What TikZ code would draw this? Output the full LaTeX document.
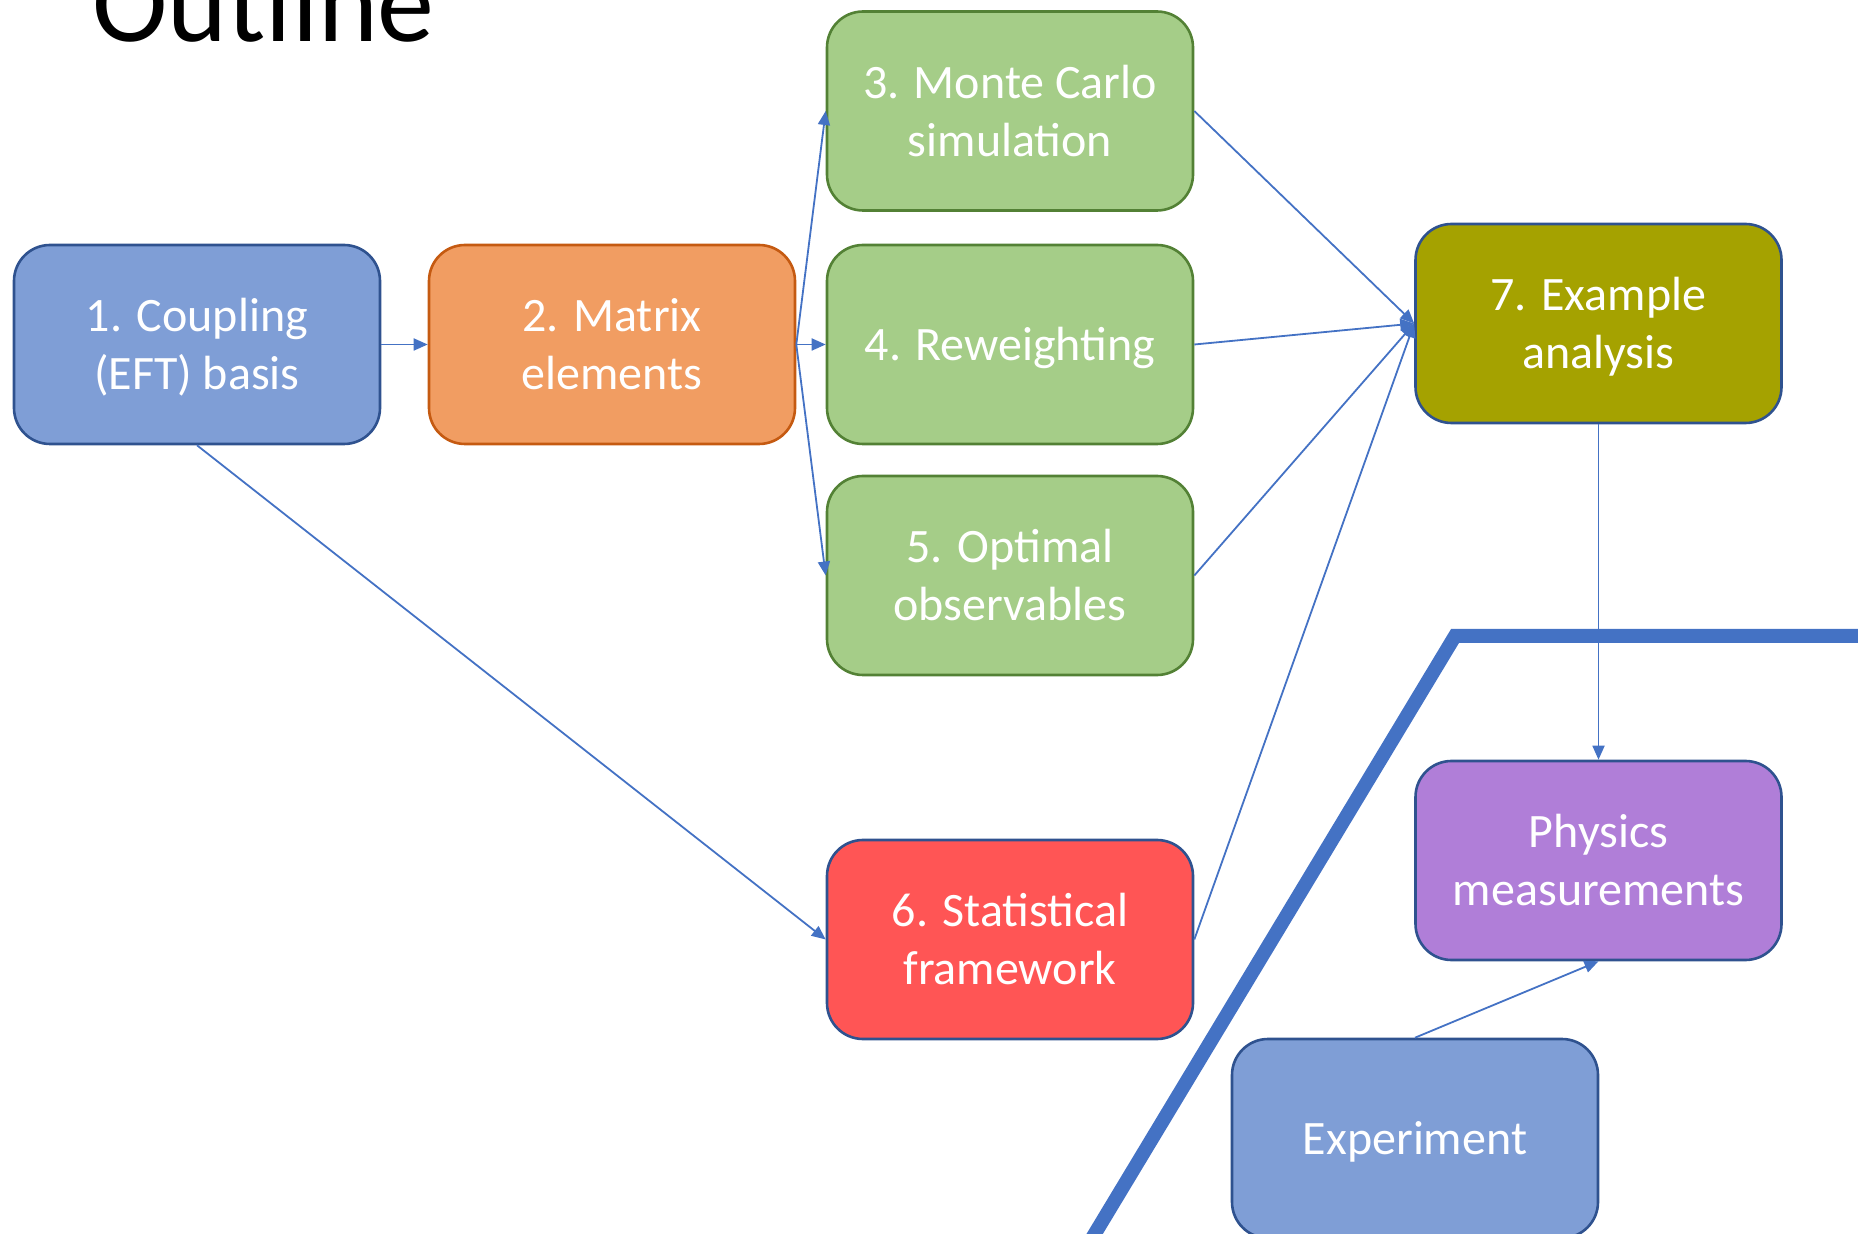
\documentclass[tikz,border=0pt]{standalone}
\usepackage{fontspec}
\setmainfont{Carlito}
\usetikzlibrary{arrows.meta}

\definecolor{linkblue}{HTML}{4472C4}
\definecolor{navyedge}{HTML}{2F528F}
\definecolor{bluefill}{HTML}{7F9ED6}
\definecolor{orangefill}{HTML}{F19D62}
\definecolor{orangeedge}{HTML}{C55A11}
\definecolor{greenfill}{HTML}{A5CD88}
\definecolor{greenedge}{HTML}{538135}
\definecolor{olivefill}{HTML}{A5A200}
\definecolor{redfill}{HTML}{FF5555}
\definecolor{purplefill}{HTML}{B07ED8}

% box label: centred lines on struts, set a little low in the box
\newcommand{\boxlines}[1]{\raisebox{-2.4pt}[\height][\depth]{\begin{tabular}{@{}c@{}}#1\end{tabular}}}

\tikzset{
  box/.style={draw=navyedge, line width=1.3pt, rounded corners=18pt,
    minimum width=183pt, minimum height=99.5pt, inner sep=0pt,
    text=white, font=\fontsize{24}{29}\selectfont},
  link/.style={draw=linkblue, line width=0.9pt,
    -{Triangle[length=7pt,width=6pt]}},
  divider/.style={draw=linkblue, line width=7pt, line join=miter},
}

\begin{document}
\begin{tikzpicture}[x=0.5pt, y=-0.5pt]
  \useasboundingbox (0,0) rectangle (1858,1234);
  \begin{scope}
    \clip (0,0) rectangle (1858,1234);

    % heading
    \node[anchor=base west, inner sep=0pt, font=\fontsize{57}{60}\selectfont] (title) at (92,42) {Outline};

    % separator between theory chain and experiment
    \coordinate (sepA) at (1088,1245);
    \coordinate (sepB) at (1455,636);
    \coordinate (sepC) at (1870,636);
    \draw[divider] (sepA) -- (sepB) -- (sepC);

    % boxes
    \node[box, fill=bluefill] (b1) at (197,344.5) {\boxlines{1. Coupling\\(EFT) basis}};
    \node[box, fill=orangefill, draw=orangeedge] (b2) at (612,344.5) {\boxlines{2. Matrix\\elements}};
    \node[box, fill=greenfill, draw=greenedge] (b3) at (1010,111) {\boxlines{3. Monte Carlo\\simulation}};
    \node[box, fill=greenfill, draw=greenedge] (b4) at (1010,344.5) {\boxlines{4. Reweighting}};
    \node[box, fill=greenfill, draw=greenedge] (b5) at (1010,575.5) {\boxlines{5. Optimal\\observables}};
    \node[box, fill=redfill] (b6) at (1010,939.5) {\boxlines{6. Statistical\\framework}};
    \node[box, fill=olivefill] (b7) at (1598.5,323.5) {\boxlines{7. Example\\analysis}};
    \node[box, fill=purplefill] (phys) at (1598.5,860.5) {\boxlines{Physics\\measurements}};
    \node[box, fill=bluefill] (exp) at (1415,1138.5) {\boxlines{Experiment}};

    % connectors
    \draw[link] (b1.east) -- (b2.west);
    \draw[link] (b2.east) -- (b3.west);
    \draw[link] (b2.east) -- (b4.west);
    \draw[link] (b2.east) -- (b5.west);
    \draw[link] (b1.south) -- (b6.west);
    \draw[link] (b3.east) -- (b7.west);
    \draw[link] (b4.east) -- (b7.west);
    \draw[link] (b5.east) -- (b7.west);
    \draw[link] (b6.east) -- (b7.west);
    \draw[link] (b7.south) -- (phys.north);
    \draw[link] (exp.north) -- (phys.south);
  \end{scope}
\end{tikzpicture}
\end{document}
